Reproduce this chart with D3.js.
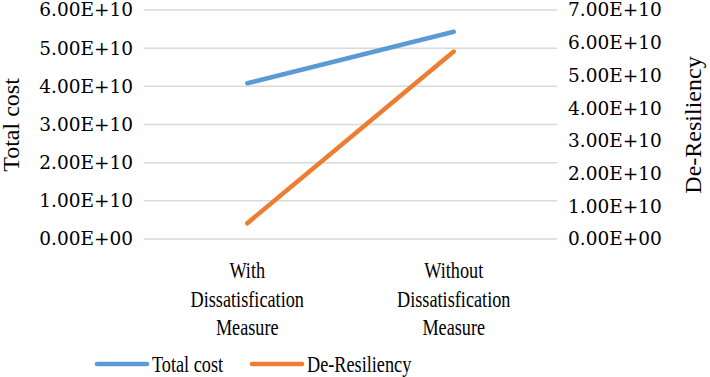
<!DOCTYPE html>
<meta charset="utf-8">
<title>Total cost vs De-Resiliency</title>
<style>
body { margin: 0; background: #fff; }
svg { display: block; }
.tick text { font-family: "DejaVu Serif", serif; font-size: 18.5px; fill: #000; }
.lab { font-family: "Liberation Serif", serif; font-size: 24px; fill: #000; }
</style>

<svg width="710" height="377"></svg>
<script src="https://d3js.org/d3.v7.min.js"></script>
<script>

var categories = [["With", "Dissatisfication", "Measure"], ["Without", "Dissatisfication", "Measure"]],
    totalCost = [4.08e10, 5.43e10],
    deResiliency = [0.48e10, 5.73e10],
    leftTicks = [0, 1e10, 2e10, 3e10, 4e10, 5e10, 6e10],
    rightTicks = [0, 1e10, 2e10, 3e10, 4e10, 5e10, 6e10, 7e10];

var series = [
  {name: "Total cost", values: totalCost, color: "#5b9bd5", axis: "left"},
  {name: "De-Resiliency", values: deResiliency, color: "#ed7d31", axis: "right"}
];

var svg = d3.select("svg"),
    plotLeft = 144, plotRight = 557, plotTop = 10, plotBottom = 239,
    squeeze = 0.76;

var x = d3.scalePoint()
    .domain(d3.range(categories.length))
    .range([plotLeft, plotRight])
    .padding(0.5);

var yL = d3.scaleLinear().domain([0, 6e10]).range([plotBottom, plotTop]);
var yR = d3.scaleLinear().domain([0, 7e10]).range([plotBottom, plotTop]);

function sci(d) {
  return d3.format(".2e")(d).toUpperCase().replace(/E([+-])(\d)$/, "E$10$2");
}

// gridlines (left axis)
svg.append("g").selectAll("line")
  .data(leftTicks)
  .enter().append("line")
    .attr("x1", plotLeft).attr("x2", plotRight)
    .attr("y1", function(d) { return yL(d); })
    .attr("y2", function(d) { return yL(d); })
    .attr("stroke", "#d9d9d9")
    .attr("stroke-width", 1.5);

var gl = svg.append("g")
    .attr("transform", "translate(" + (plotLeft - 11) + ",0)")
    .call(d3.axisLeft(yL).tickValues(leftTicks).tickFormat(sci).tickSize(0).tickPadding(0));
gl.select(".domain").remove();

var gr = svg.append("g")
    .attr("transform", "translate(" + (plotRight + 11) + ",0)")
    .call(d3.axisRight(yR).tickValues(rightTicks).tickFormat(sci).tickSize(0).tickPadding(0));
gr.select(".domain").remove();

// lines
var line = d3.line()
    .x(function(d, i) { return x(i); });

svg.selectAll("path.series")
  .data(series)
  .enter().append("path")
    .attr("class", "series")
    .attr("fill", "none")
    .attr("stroke", function(d) { return d.color; })
    .attr("stroke-width", 4.5)
    .attr("stroke-linecap", "round")
    .attr("d", function(d) {
      var y = d.axis === "left" ? yL : yR;
      return line.y(function(v) { return y(v); })(d.values);
    });

// category labels
categories.forEach(function(lines, i) {
  lines.forEach(function(t, j) {
    svg.append("text")
      .attr("class", "lab")
      .attr("text-anchor", "middle")
      .attr("transform", "translate(" + x(i) + "," + (278 + j * 28.5) + ") scale(" + squeeze + ",1)")
      .text(t);
  });
});

// axis titles
svg.append("text")
    .attr("class", "lab")
    .attr("text-anchor", "middle")
    .attr("transform", "translate(19,125) rotate(-90)")
    .text("Total cost");

svg.append("text")
    .attr("class", "lab")
    .attr("text-anchor", "middle")
    .attr("transform", "translate(701,125) rotate(-90)")
    .text("De-Resiliency");

// legend
var legendX = [97, 252];
series.forEach(function(s, i) {
  svg.append("line")
    .attr("x1", legendX[i]).attr("x2", legendX[i] + 50)
    .attr("y1", 364).attr("y2", 364)
    .attr("stroke", s.color)
    .attr("stroke-width", 4.5)
    .attr("stroke-linecap", "round");
  svg.append("text")
    .attr("class", "lab")
    .attr("transform", "translate(" + (legendX[i] + 55) + ",372) scale(" + squeeze + ",1)")
    .text(s.name);
});

</script>
